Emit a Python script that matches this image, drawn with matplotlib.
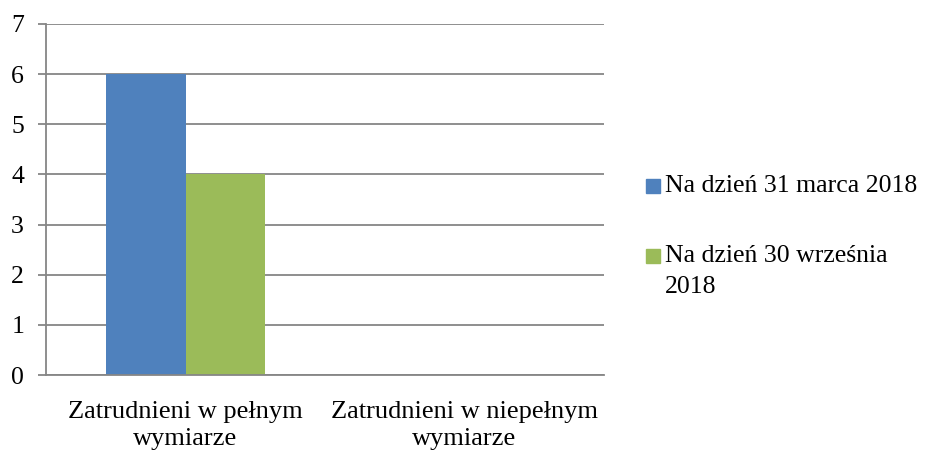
import matplotlib
matplotlib.use("Agg")
import matplotlib.pyplot as plt
from matplotlib.patches import Rectangle

categories = ["Zatrudnieni w pełnym\nwymiarze", "Zatrudnieni w niepełnym\nwymiarze"]
series_names = ["Na dzień 31 marca 2018", "Na dzień 30 września\n2018"]
march = [6, 0]
september = [4, 0]
colors = ["#4F81BD", "#9BBB59"]
yticks = [0, 1, 2, 3, 4, 5, 6, 7]

plt.rcParams['font.family'] = ['Liberation Serif', 'DejaVu Serif']

W, H = 927, 450
fig = plt.figure(figsize=(W/100, H/100), dpi=100)
ax = fig.add_axes([46/W, 75/H, (604-46)/W, (375-24)/H])

x = list(range(len(categories)))
w = 0.286
ax.bar([i - w/2 for i in x], march, width=w, color=colors[0], zorder=3)
ax.bar([i + w/2 for i in x], september, width=w, color=colors[1], zorder=3)

ax.set_xlim(-0.5, len(categories) - 0.5)
ax.set_ylim(0, 7)
ax.set_yticks(yticks)
ax.set_yticklabels([str(t) for t in yticks], fontsize=18.5)
ax.set_xticks(x)
ax.set_xticklabels(categories, fontsize=19, linespacing=1.32)
ax.tick_params(axis='x', length=0, pad=18.5)
ax.tick_params(axis='y', length=5.8, width=1.3, color='#868686', pad=10)
ax.grid(axis='y', color='#868686', linewidth=1.3, zorder=0)
for s in ['top', 'right']:
    ax.spines[s].set_visible(False)
for s in ['left', 'bottom']:
    ax.spines[s].set_color('#868686')
    ax.spines[s].set_linewidth(1.3)
ax.spines['bottom'].set_zorder(4)

# legend (manual, square aligned with the first text line)
baselines = [192, 262]
line_gap = 31
for name, c, b in zip(series_names, colors, baselines):
    fig.patches.append(Rectangle((646/W, 1 - (b + 0.5)/H), 14/W, 14/H,
                                 transform=fig.transFigure, color=c))
    for k, ln in enumerate(name.split("\n")):
        fig.text(665/W, 1 - (b + line_gap*k)/H, ln, fontsize=18.5,
                 va='baseline', ha='left')

fig.savefig("out.png", dpi=100)
